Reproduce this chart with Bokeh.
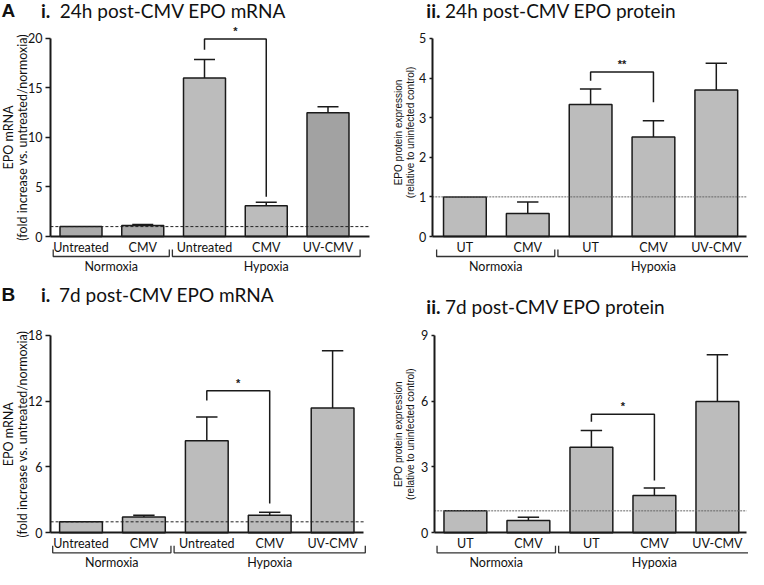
from bokeh.plotting import figure
from bokeh.layouts import column, row
from bokeh.models import Range1d, LinearAxis, FixedTicker, Label
from bokeh.core.properties import value
from bokeh.embed import file_html
from bokeh.resources import INLINE

# ---------------- data ----------------
cats_mrna = ["Untreated", "CMV", "Untreated", "CMV", "UV-CMV"]
cats_prot = ["UT", "CMV", "UT", "CMV", "UV-CMV"]
groups = ["Normoxia", "Hypoxia"]
group_start = [-0.45, 1.48]
group_end = [1.43, 4.52]

mrna_24h = [1.0, 1.12, 16.0, 3.1, 12.5]
mrna_24h_err = [0.0, 0.08, 1.86, 0.36, 0.59]
prot_24h = [1.0, 0.58, 3.33, 2.51, 3.70]
prot_24h_err = [0.0, 0.29, 0.39, 0.41, 0.67]
mrna_7d = [1.0, 1.43, 8.39, 1.61, 11.37]
mrna_7d_err = [0.0, 0.17, 2.17, 0.26, 5.23]
prot_7d = [1.0, 0.56, 3.90, 1.70, 5.98]
prot_7d_err = [0.0, 0.15, 0.76, 0.34, 2.13]

ticks_mrna_24h = [0, 5, 10, 15, 20]
ticks_prot_24h = [0, 1, 2, 3, 4, 5]
ticks_mrna_7d = [0, 6, 12, 18]
ticks_prot_7d = [0, 3, 6, 9]

# significance brackets: bar pair, bracket height, left leg end, right leg end, label
sig_pair = [2, 3]
sig_mrna_24h = [19.93, 18.85, 4.02, "*"]
sig_prot_24h = [4.15, 3.93, 3.39, "**"]
sig_mrna_7d = [12.95, 12.05, 2.68, "*"]
sig_prot_7d = [5.40, 5.06, 2.38, "*"]

baseline = 1.0

LIGHT = "#bcbcbc"
colors_mrna_24h = ["#aaaaaa", "#aaaaaa", LIGHT, LIGHT, "#a2a2a2"]
colors_other = [LIGHT] * 5

CAL = "Lato"
ARIAL = "Liberation Sans"


def panel(w, h, g, cats, vals, errs, colors, yticks, sig, titles, ylab, ylab_font,
          ylab_size, tick_font, tick_size, tick_len, dash_color, dash):
    ppu = (g["y0"] - g["ytop"]) / yticks[-1]
    xs = (0 - g["c0"]) / g["sp"]
    xe = (w - g["c0"]) / g["sp"]
    ys = -(h - g["y0"]) / ppu
    ye = g["y0"] / ppu
    axl = (g["axis_x"] - g["c0"]) / g["sp"]
    axr = (g["axis_end"] - g["c0"]) / g["sp"]

    p = figure(width=w, height=h, x_range=Range1d(xs, xe), y_range=Range1d(ys, ye),
               x_axis_type=None, y_axis_type=None, toolbar_location=None,
               output_backend="svg", min_border=0, outline_line_color=None,
               background_fill_color="white", border_fill_color="white")

    pos = list(range(len(vals)))
    p.vbar(x=pos, top=vals, bottom=0, width=0.68, fill_color=colors,
           line_color="#1a1a1a", line_width=1.5)
    # error bars (upper only)
    tops = [v + e for v, e in zip(vals, errs)]
    ep = [i for i, e in enumerate(errs) if e > 0]
    p.segment(x0=[pos[i] for i in ep], y0=[vals[i] for i in ep],
              x1=[pos[i] for i in ep], y1=[tops[i] for i in ep],
              line_color="#1a1a1a", line_width=1.5)
    p.segment(x0=[pos[i] - 0.17 for i in ep], y0=[tops[i] for i in ep],
              x1=[pos[i] + 0.17 for i in ep], y1=[tops[i] for i in ep],
              line_color="#1a1a1a", line_width=1.5)
    # baseline dashed
    p.segment(x0=[axl], y0=[baseline], x1=[axr], y1=[baseline],
              line_color=dash_color, line_width=1, line_dash=dash)
    # significance bracket
    a, b = sig_pair
    p.line(x=[a, a, b, b], y=[sig[1], sig[0], sig[0], sig[2]],
           line_color="#1a1a1a", line_width=1.5)
    p.text(x=[(a + b) / 2], y=[sig[0]], text=[sig[3]], text_align="center",
           text_baseline="middle", y_offset=-8, text_font=value(ARIAL),
           text_font_size="11px", text_color="#1a1a1a", text_font_style="bold")

    # group brackets under x axis
    br = -20 / ppu
    tip = -13 / ppu
    lab = -30 / ppu
    p.multi_line(xs=[[s, s, e, e] for s, e in zip(group_start, group_end)],
                 ys=[[tip, br, br, tip] for _ in groups],
                 line_color="#333333", line_width=1.3)
    p.text(x=[(s + e) / 2 for s, e in zip(group_start, group_end)],
           y=[lab] * len(groups), text=groups, text_align="center",
           text_baseline="middle", text_font=value(CAL), text_font_size="12.5px",
           text_color="#111111")

    # axes
    yax = LinearAxis(fixed_location=axl, bounds=(0, yticks[-1]),
                     ticker=FixedTicker(ticks=yticks), axis_line_width=2,
                     axis_line_color="#1a1a1a", major_tick_out=tick_len,
                     major_tick_in=0, minor_tick_out=0, minor_tick_in=0,
                     major_tick_line_width=1.5, major_tick_line_color="#1a1a1a",
                     major_label_standoff=3, major_label_text_font=tick_font,
                     major_label_text_font_size=tick_size,
                     major_label_text_color="#111111")
    p.add_layout(yax, "left")
    xax = LinearAxis(fixed_location=0, bounds=(axl, axr),
                     ticker=FixedTicker(ticks=pos),
                     major_label_overrides={i: c for i, c in enumerate(cats)},
                     axis_line_width=2, axis_line_color="#1a1a1a",
                     major_tick_out=0, major_tick_in=0, minor_tick_out=0,
                     minor_tick_in=0, major_label_standoff=3,
                     major_label_text_font=CAL, major_label_text_font_size="12.5px",
                     major_label_text_color="#111111")
    p.add_layout(xax, "below")

    # y axis label (two lines)
    cy = h - ylab["cy"]
    for txt, lx in zip(ylab["lines"], ylab["x"]):
        p.add_layout(Label(x=lx, y=cy, x_units="screen", y_units="screen",
                           text=txt, angle=1.5708, text_align="center",
                           text_baseline="middle", text_font=ylab_font,
                           text_font_size=ylab_size, text_color="#111111"))
    # titles
    for t in titles:
        p.add_layout(Label(x=t["x"], y=h - t["y"], x_units="screen",
                           y_units="screen", text=t["text"], text_align="left",
                           text_baseline="middle", text_font=t["font"],
                           text_font_size=t["size"], text_font_style=t["style"],
                           text_color="#111111"))
    return p


W = 374
geom_a1 = dict(axis_x=49.9, c0=80.5, sp=61.75, axis_end=368.5, y0=236, ytop=37.9)
geom_a2 = dict(axis_x=57.8, c0=90.4, sp=62.85, axis_end=372, y0=236, ytop=37.9)
geom_b1 = dict(axis_x=50.1, c0=80.5, sp=62.9, axis_end=363.3, y0=250.3, ytop=52.8)
geom_b2 = dict(axis_x=59.7, c0=90.9, sp=63.0, axis_end=372, y0=250.3, ytop=52.8)

ylab_mrna = ["EPO mRNA", "(fold increase vs. untreated/normoxia)"]
ylab_prot = ["EPO protein expression", "(relative to uninfected control)"]


def titles(letter, num, text, y, xnum, xtext):
    out = []
    if letter:
        out.append(dict(x=1, y=y, text=letter, font=ARIAL, size="19px", style="bold"))
    out.append(dict(x=xnum, y=y, text=num, font=CAL, size="19px", style="bold"))
    out.append(dict(x=xtext, y=y, text=text, font=CAL, size="19px", style="normal"))
    return out


p1 = panel(W, 282, geom_a1, cats_mrna, mrna_24h, mrna_24h_err, colors_mrna_24h,
           ticks_mrna_24h, sig_mrna_24h,
           titles("A", "i.", "24h post-CMV EPO mRNA", 10, 40.5, 59.3),
           dict(lines=ylab_mrna, x=[8, 22], cy=137), CAL, "12.5px", CAL, "12.5px", 5,
           "#222222", "3 2")
p2 = panel(W, 282, geom_a2, cats_prot, prot_24h, prot_24h_err, colors_other,
           ticks_prot_24h, sig_prot_24h,
           titles(None, "ii.", "24h post-CMV EPO protein", 10, 51.8, 70.6),
           dict(lines=ylab_prot, x=[24, 36], cy=132), ARIAL, "10px", CAL, "12.5px", 3,
           "#666666", "2 1")
p3 = panel(W, 287, geom_b1, cats_mrna, mrna_7d, mrna_7d_err, colors_other,
           ticks_mrna_7d, sig_mrna_7d,
           titles("B", "i.", "7d post-CMV EPO mRNA", 11.5, 40.5, 58.6),
           dict(lines=ylab_mrna, x=[8, 22], cy=151.7), CAL, "12.5px", CAL, "12.5px", 5,
           "#222222", "3 2")
p4 = panel(W, 287, geom_b2, cats_prot, prot_7d, prot_7d_err, colors_other,
           ticks_prot_7d, sig_prot_7d,
           titles(None, "ii.", "7d post-CMV EPO protein", 24.4, 51.8, 70.6),
           dict(lines=ylab_prot, x=[24, 36], cy=151.7), ARIAL, "10px", CAL, "12.5px", 3,
           "#666666", "2 1")

layout = column(row(p1, p2), row(p3, p4))
open("out.html", "w").write(file_html(layout, INLINE))
